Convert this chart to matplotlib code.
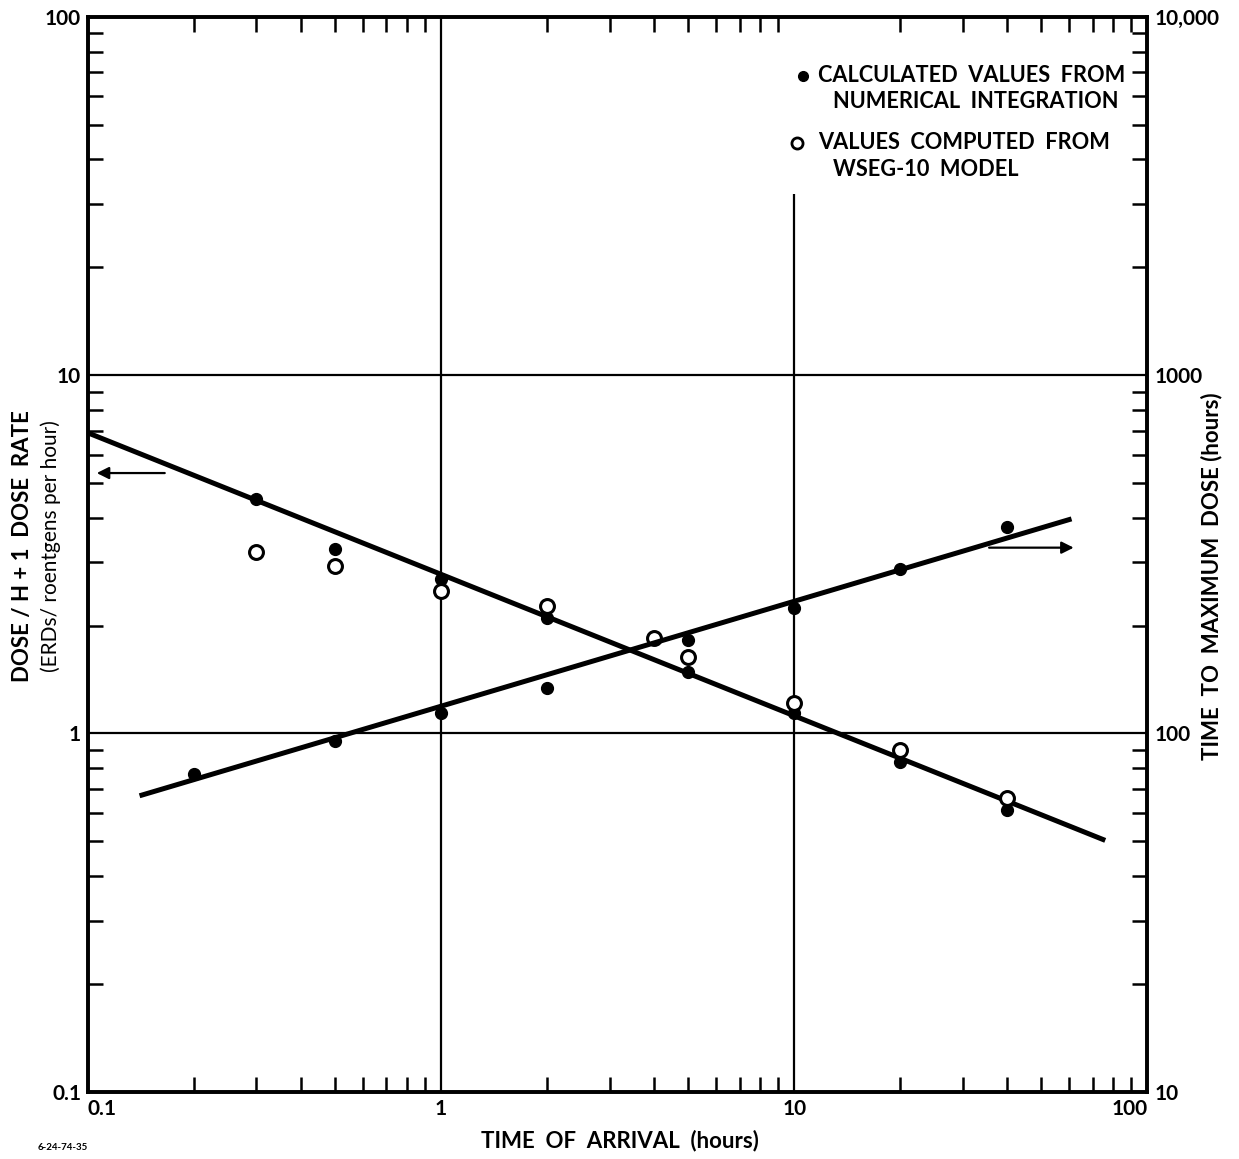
import numpy as np
import matplotlib
matplotlib.use("Agg")
import matplotlib.pyplot as plt
from matplotlib.ticker import LogLocator, NullFormatter, FixedLocator, FixedFormatter

plt.rcParams['font.family'] = ['Lato', 'DejaVu Sans']
plt.rcParams['font.weight'] = 'bold'

# dose / H+1 dose rate, numerical integration (filled)
calc_dose_t = [0.3, 0.5, 1, 2, 5, 10, 20, 40]
calc_dose = [4.5, 3.27, 2.7, 2.1, 1.48, 1.14, 0.83, 0.61]

# dose / H+1 dose rate, WSEG-10 model (open)
wseg_dose_t = [0.3, 0.5, 1, 2, 4, 5, 10, 20, 40]
wseg_dose = [3.21, 2.94, 2.5, 2.27, 1.85, 1.63, 1.22, 0.90, 0.66]

# time to maximum dose, numerical integration (filled, right axis)
calc_tmax_t = [0.2, 0.5, 1, 2, 5, 10, 20, 40]
calc_tmax = [77, 95, 114, 134, 182, 224, 288, 377]

# fitted lines (end points)
dose_fit_t = [0.1, 76]
dose_fit = [6.9, 0.503]
tmax_fit_t = [0.14, 61]
tmax_fit = [67, 397]

fig = plt.figure(figsize=(12.39, 11.59), dpi=100)
ax = fig.add_axes([0.071, 0.058, 0.855, 0.9275])
ax.set_xscale('log')
ax.set_yscale('log')
ax.set_xlim(0.1, 100)
ax.set_ylim(0.1, 100)

ax2 = ax.twinx()
ax2.set_yscale('log')
ax2.set_ylim(10, 10000)

lw_spine = 2.6
for a in (ax, ax2):
    for s in a.spines.values():
        s.set_linewidth(lw_spine)

# decade grid lines
ax.axhline(10, color='black', lw=1.6)
ax.axhline(1, color='black', lw=1.6)
ax.axvline(1, color='black', lw=1.6)
ax.vlines(10, 0.1, 32, color='black', lw=1.6)

# fit lines
ax.plot(dose_fit_t, dose_fit, color='black', lw=3.6, solid_capstyle='butt')
ax2.plot(tmax_fit_t, tmax_fit, color='black', lw=3.6, solid_capstyle='butt')

# data points
ax.plot(calc_dose_t, calc_dose, 'o', color='black', ms=8.5, zorder=5)
ax.plot(wseg_dose_t, wseg_dose, 'o', mfc='white', mec='black', mew=2.2, ms=10, zorder=5)
ax2.plot(calc_tmax_t, calc_tmax, 'o', color='black', ms=8.5, zorder=5)

# arrows pointing to the axis each line belongs to
ax.annotate('', xy=(0.104, 5.33), xytext=(0.168, 5.33),
            arrowprops=dict(arrowstyle='-|>', color='black', lw=1.6, mutation_scale=18))
ax2.annotate('', xy=(63, 330), xytext=(35, 330),
             arrowprops=dict(arrowstyle='-|>', color='black', lw=1.6, mutation_scale=18))

# ticks
ax.xaxis.set_major_locator(FixedLocator([0.1, 1, 10, 100]))
ax.xaxis.set_major_formatter(FixedFormatter(['0.1', '1', '10', '100']))
ax.yaxis.set_major_locator(FixedLocator([0.1, 1, 10, 100]))
ax.yaxis.set_major_formatter(FixedFormatter(['0.1', '1', '10', '100']))
ax2.yaxis.set_major_locator(FixedLocator([10, 100, 1000, 10000]))
ax2.yaxis.set_major_formatter(FixedFormatter(['10', '100', '1000', '10,000']))
for a in (ax.xaxis, ax.yaxis, ax2.yaxis):
    a.set_minor_locator(LogLocator(base=10, subs=np.arange(2, 10)))
    a.set_minor_formatter(NullFormatter())

ax.tick_params(which='major', length=0, labelsize=15, pad=5)
ax.tick_params(which='minor', direction='in', length=11, width=1.8)
ax.tick_params(axis='x', which='both', top=True)
ax.tick_params(axis='y', which='both', right=False)
ax2.tick_params(which='major', length=0, labelsize=15, pad=5)
ax2.tick_params(which='minor', direction='in', length=11, width=1.8)

xticks = ax.xaxis.get_major_ticks()
xticks[0].label1.set_horizontalalignment('left')
xticks[-1].label1.set_horizontalalignment('right')

# axis titles
fig.text(0.5, 0.016, 'TIME  OF  ARRIVAL  (hours)', fontsize=16, ha='center', va='center')
fig.text(0.018, 0.529, 'DOSE / H + 1  DOSE  RATE', rotation=90, fontsize=16,
         ha='center', va='center')
fig.text(0.041, 0.529, '(ERDs/ roentgens per hour)', rotation=90, fontsize=15,
         fontweight='normal', ha='center', va='center')
fig.text(0.978, 0.503, 'TIME  TO  MAXIMUM  DOSE (hours)', rotation=90, fontsize=16,
         ha='center', va='center')

# key
tr = ax.transAxes
ax.plot([0.675], [0.945], 'o', color='black', ms=7, transform=tr, clip_on=False)
ax.text(0.689, 0.945, 'CALCULATED  VALUES  FROM', transform=tr, fontsize=15.7, va='center')
ax.text(0.703, 0.921, 'NUMERICAL  INTEGRATION', transform=tr, fontsize=15.7, va='center')
ax.plot([0.669], [0.883], 'o', mfc='white', mec='black', mew=2, ms=8, transform=tr, clip_on=False)
ax.text(0.689, 0.883, 'VALUES  COMPUTED  FROM', transform=tr, fontsize=15.7, va='center')
ax.text(0.703, 0.858, 'WSEG-10  MODEL', transform=tr, fontsize=15.7, va='center')

fig.text(0.03, 0.008, '6-24-74-35', fontsize=7)

fig.savefig('out.png', dpi=100, facecolor='white')
